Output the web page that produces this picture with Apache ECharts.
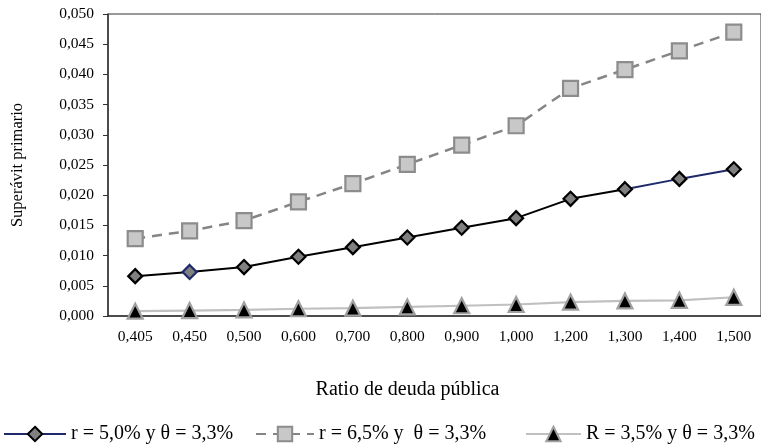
<!DOCTYPE html>
<html>
<head>
<meta charset="utf-8">
<script src="https://cdn.jsdelivr.net/npm/echarts@6/dist/echarts.min.js"></script>
<style>
html,body{margin:0;padding:0;background:#fff;}
#c{width:761px;height:447px;}
</style>
</head>
<body>
<div id="c"></div>
<script>
const categories = ['0,405','0,450','0,500','0,600','0,700','0,800','0,900','1,000','1,200','1,300','1,400','1,500'];
const serie1 = [0.0066,0.0073,0.0081,0.0098,0.0114,0.0130,0.0146,0.0162,0.0194,0.0210,0.0227,0.0243];
const serie2 = [0.0128,0.0141,0.0158,0.0189,0.0219,0.0251,0.0283,0.0315,0.0377,0.0408,0.0439,0.0470];
const serie3 = [0.0008,0.0009,0.0010,0.0012,0.0013,0.0015,0.0017,0.0019,0.0023,0.0025,0.0026,0.0031];
const names = ['r = 5,0% y θ = 3,3%','r = 6,5% y  θ = 3,3%','R = 3,5% y θ = 3,3%'];
const navy = '#1f2a6b';
const font = '"Liberation Serif", "DejaVu Serif", serif';

// series 1 split: black segments up to index 9, navy after
const s1Black = serie1.map((v,i)=> i<=9 ? v : null);
const s1Navy = serie1.map((v,i)=> i>=9 ? v : null);
const s1Marks = serie1.map((v,i)=> i===1 ? {value:v, itemStyle:{borderColor:navy}} : v);

const chart = echarts.init(document.getElementById('c'), null, {renderer:'canvas'});
const legendBase = {
  top: 424, itemHeight: 18, itemGap: 0,
  textStyle: {fontFamily: font, fontSize: 20, color: '#000'},
  padding: 0
};
chart.setOption({
  animation: false,
  backgroundColor: '#fff',
  grid: {left: 108, top: 14, width: 660, height: 302, show: true, borderColor: '#333', borderWidth: 1, backgroundColor:'transparent'},
  legend: [
    Object.assign({}, legendBase, {left: 3, itemWidth: 62, data: [{name: names[0], lineStyle: {color: navy, width: 2, opacity: 1}}]}),
    Object.assign({}, legendBase, {left: 255, itemWidth: 58, data: [names[1]]}),
    Object.assign({}, legendBase, {left: 525, itemWidth: 55, data: [names[2]]})
  ],
  xAxis: {
    type: 'category', data: categories, boundaryGap: true,
    axisLine: {lineStyle: {color: '#333', width: 1.5}},
    axisTick: {show: false},
    axisLabel: {fontFamily: font, fontSize: 15.5, color: '#000', margin: 13},
    name: 'Ratio de deuda pública', nameLocation: 'middle', nameGap: 64,
    nameTextStyle: {fontFamily: font, fontSize: 20, color: '#000', padding: [0, 54, 0, 0]}
  },
  yAxis: {
    type: 'value', min: 0, max: 0.05, interval: 0.005,
    axisLine: {show: true, lineStyle: {color: '#333', width: 1.5}},
    axisTick: {show: true, length: 5, lineStyle: {color: '#333'}},
    splitLine: {show: false},
    axisLabel: {fontFamily: font, fontSize: 15.5, color: '#000', margin: 14,
      formatter: v => v.toFixed(3).replace('.', ',')},
    name: 'Superávit primario', nameLocation: 'middle', nameGap: 82, nameRotate: 90,
    nameTextStyle: {fontFamily: font, fontSize: 16.5, color: '#000'}
  },
  series: [
    {name: 'seg-black', type: 'line', data: s1Black, showSymbol: false, symbol: 'none', z: 2,
      lineStyle: {color: '#000', width: 2}, silent: true},
    {name: 'seg-navy', type: 'line', data: s1Navy, showSymbol: false, symbol: 'none', z: 2,
      lineStyle: {color: navy, width: 2}, silent: true},
    {name: names[0], type: 'line', data: s1Marks, symbol: 'diamond', symbolSize: 14, z: 3,
      lineStyle: {width: 0, opacity: 0, color: navy},
      itemStyle: {color: '#808080', borderColor: '#000', borderWidth: 2.2}},
    {name: names[1], type: 'line', data: serie2, symbol: 'rect', symbolSize: 15, z: 3,
      lineStyle: {color: '#858585', width: 2.5, type: [10, 7]},
      itemStyle: {color: '#c8c8c8', borderColor: '#8c8c8c', borderWidth: 2.2}},
    {name: names[2], type: 'line', data: serie3, symbol: 'triangle', symbolSize: 15, z: 3,
      lineStyle: {color: '#c0c0c0', width: 2.2},
      itemStyle: {color: '#000', borderColor: '#a0a0a0', borderWidth: 2.2}}
  ]
});
</script>
</body>
</html>
